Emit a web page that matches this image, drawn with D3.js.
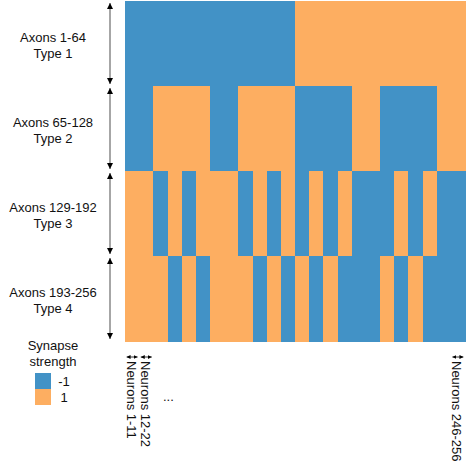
<!DOCTYPE html>
<html>
<head>
<meta charset="utf-8">
<script src="https://cdn.jsdelivr.net/npm/d3@7"></script>
<style>
  body { margin: 0; background: #fff; }
  text { font-family: "Liberation Sans", Arial, Helvetica, sans-serif; font-size: 13px; fill: #111; }
</style>
</head>
<body>
<div id="chart"></div>
<script>
const width = 467;
const height = 469;

// axon types (rows) and their labels
const types = ["Type 1", "Type 2", "Type 3", "Type 4"];
const axonRanges = ["Axons 1-64", "Axons 65-128", "Axons 129-192", "Axons 193-256"];

// neuron groups (columns), 24 groups of ~11 neurons
const groups = d3.range(24);
const neuronLabels = [
  { group: 0, label: "Neurons 1-11" },
  { group: 1, label: "Neurons 12-22" },
  { group: 23, label: "Neurons 246-256" }
];

// synapse strength per neuron group, one list per axon type
const type1 = [-1,-1,-1,-1,-1,-1,-1,-1,-1,-1,-1,-1, 1,1,1,1,1,1,1,1,1,1,1,1];
const type2 = [-1,-1,1,1,1,1,-1,-1,1,1,1,1, -1,-1,-1,-1,1,1,-1,-1,-1,-1,1,1];
const type3 = [1,1,-1,1,-1,1,1,1,-1,1,-1,1, -1,1,-1,1,-1,-1,-1,1,-1,1,-1,-1];
const type4 = [1,1,1,-1,1,-1,1,1,1,-1,1,-1, 1,-1,1,-1,-1,-1,1,-1,1,-1,-1,-1];
const weights = [type1, type2, type3, type4];

const strengths = [-1, 1];
const colors = ["#4292c6", "#fdae61"];

const svg = d3.select("#chart").append("svg")
    .attr("width", width)
    .attr("height", height);

const x = d3.scaleBand().domain(groups).range([125, 465]);
const y = d3.scaleBand().domain(types).range([1, 341]);
const color = d3.scaleOrdinal().domain(strengths).range(colors);

// heatmap cells
const cells = [];
types.forEach((t, i) => groups.forEach(g => cells.push({ type: t, group: g, value: weights[i][g] })));

svg.append("g")
    .attr("shape-rendering", "crispEdges")
    .selectAll("rect")
    .data(cells)
    .join("rect")
    .attr("x", d => x(d.group))
    .attr("y", d => y(d.type))
    .attr("width", x.bandwidth() + 0.5)
    .attr("height", y.bandwidth() + 0.5)
    .attr("fill", d => color(d.value));

// arrow markers
const defs = svg.append("defs");
defs.append("marker")
    .attr("id", "arrowV")
    .attr("viewBox", "0 0 10 10")
    .attr("refX", 10).attr("refY", 5)
    .attr("markerWidth", 6).attr("markerHeight", 6)
    .attr("markerUnits", "userSpaceOnUse")
    .attr("orient", "auto-start-reverse")
    .append("path")
    .attr("d", "M0,0 L10,5 L0,10 Z")
    .attr("fill", "#000");
defs.append("marker")
    .attr("id", "arrowH")
    .attr("viewBox", "0 0 10 10")
    .attr("refX", 10).attr("refY", 5)
    .attr("markerWidth", 4).attr("markerHeight", 4)
    .attr("markerUnits", "userSpaceOnUse")
    .attr("orient", "auto-start-reverse")
    .append("path")
    .attr("d", "M0,0 L10,5 L0,10 Z")
    .attr("fill", "#000");

// left row annotations
const rowG = svg.append("g");
rowG.selectAll("line")
    .data(types)
    .join("line")
    .attr("x1", 110).attr("x2", 110)
    .attr("y1", d => y(d) + 2)
    .attr("y2", d => y(d) + y.bandwidth() - 2)
    .attr("stroke", "#888")
    .attr("stroke-width", 1.5)
    .attr("marker-start", "url(#arrowV)")
    .attr("marker-end", "url(#arrowV)");

const rowLabels = rowG.selectAll("text")
    .data(types)
    .join("text")
    .attr("text-anchor", "middle");
rowLabels.append("tspan")
    .attr("x", 53)
    .attr("y", d => y(d) + y.bandwidth() / 2 - 2)
    .text((d, i) => axonRanges[i]);
rowLabels.append("tspan")
    .attr("x", 53)
    .attr("y", d => y(d) + y.bandwidth() / 2 + 14)
    .text(d => d);

// legend
const legend = svg.append("g");
legend.append("text").attr("x", 53).attr("y", 350).attr("text-anchor", "middle").text("Synapse");
legend.append("text").attr("x", 53).attr("y", 366).attr("text-anchor", "middle").text("strength");
legend.selectAll("rect")
    .data(strengths)
    .join("rect")
    .attr("x", 35)
    .attr("y", (d, i) => 373 + i * 16)
    .attr("width", 16).attr("height", 16)
    .attr("fill", d => color(d));
legend.selectAll("text.lv")
    .data(strengths)
    .join("text")
    .attr("class", "lv")
    .attr("x", 64)
    .attr("y", (d, i) => 386 + i * 16)
    .attr("text-anchor", "middle")
    .text(d => d);

// bottom neuron annotations
const colG = svg.append("g");
colG.selectAll("line")
    .data(neuronLabels)
    .join("line")
    .attr("x1", d => x(d.group) + x.bandwidth() / 2 - 5.5)
    .attr("x2", d => x(d.group) + x.bandwidth() / 2 + 5.5)
    .attr("y1", 357).attr("y2", 357)
    .attr("stroke", "#000")
    .attr("stroke-width", 0.8)
    .attr("marker-start", "url(#arrowH)")
    .attr("marker-end", "url(#arrowH)");
colG.selectAll("text")
    .data(neuronLabels)
    .join("text")
    .attr("transform", d => `translate(${x(d.group) + x.bandwidth() / 2 - 1},361) rotate(90)`)
    .attr("dy", "0.35em")
    .text(d => d.label);
colG.append("text")
    .attr("x", 163).attr("y", 401)
    .text("...");
</script>
</body>
</html>
